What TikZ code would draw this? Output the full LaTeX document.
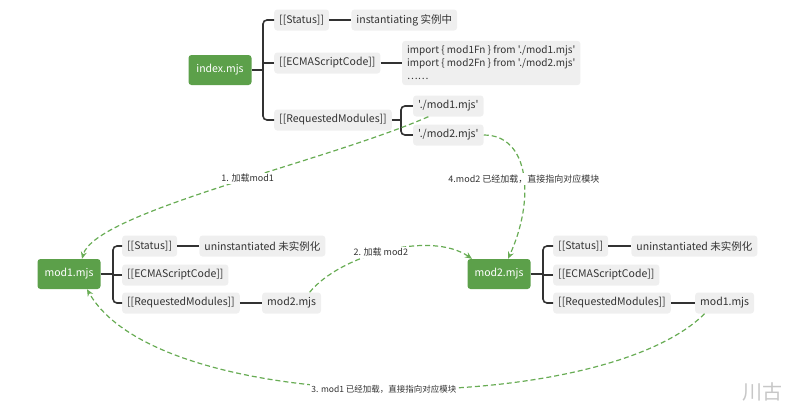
\documentclass[tikz,border=0pt]{standalone}
\usepackage{fontspec}
\setmainfont{Noto Sans CJK SC}[Ligatures=TeXOff]
\usetikzlibrary{arrows.meta,positioning,calc}
\definecolor{verdeMod}{RGB}{92,160,74}
\definecolor{verdeSeta}{RGB}{104,172,84}
\definecolor{cinzaCaixa}{RGB}{239,239,239}
\definecolor{traco}{RGB}{50,50,50}
\tikzset{
  modulo/.style={rectangle, fill=verdeMod, text=white, rounded corners=3pt,
                 minimum width=63pt, minimum height=30pt,
                 font=\fontsize{10.5}{12}\selectfont},
  campo/.style={rectangle, fill=cinzaCaixa, rounded corners=3pt, minimum height=21pt,
                inner xsep=5pt, font=\fontsize{10.5}{12}\selectfont, text=black!80},
  ramo/.style={draw=traco, line width=1.6pt, rounded corners=4pt},
  carga/.style={-{Stealth[length=7pt,width=6pt]}, verdeSeta, line width=1.2pt,
                dash pattern=on 5pt off 3pt},
  rotulo/.style={fill=white, inner sep=1.5pt, font=\fontsize{9}{11}\selectfont, text=black!80},
}
\begin{document}
\begin{tikzpicture}[x=1pt, y=-1pt]
  \useasboundingbox (0,0) rectangle (801,416);
  % index.mjs
  \node[modulo] (idx) at (220,70) {index.mjs};
  \node[campo, anchor=west] (i_st) at (274,20) {[[Status]]};
  \node[campo, right=22pt of i_st] (i_stv) {instantiating 实例中};
  \node[campo, anchor=west] (i_cod) at (274,63) {[[ECMAScriptCode]]};
  \node[campo, anchor=west, align=left, inner ysep=5pt,
        font=\fontsize{10}{13}\selectfont] (i_codv) at (402,63)
    {import \{ mod1Fn \} from './mod1.mjs'\\import \{ mod2Fn \} from './mod2.mjs'\\……};
  \node[campo, anchor=west] (i_req) at (274,120) {[[RequestedModules]]};
  \node[campo, anchor=west] (r1) at ($(i_req.east)+(21,-14)$) {'./mod1.mjs'};
  \node[campo, anchor=west] (r2) at ($(i_req.east)+(21,15)$) {'./mod2.mjs'};
  \coordinate (bI) at ([xshift=-11]i_st.west);
  \coordinate (bR) at ([xshift=-12]r1.west);
  \draw[ramo] (idx.east) -- (idx.east -| bI);
  \draw[ramo] (i_st.west) -- (i_st.west -| bI) -- (i_req.west -| bI) -- (i_req.west);
  \draw[ramo] (i_cod.west) -- (i_cod.west -| bI);
  \draw[ramo] (i_st) -- (i_stv);
  \draw[ramo] (i_cod) -- (i_codv);
  \draw[ramo] (i_req.east) -- (i_req.east -| bR);
  \draw[ramo] (r1.west) -- (r1.west -| bR) -- (r2.west -| bR) -- (r2.west);

  % mod1.mjs
  \node[modulo] (m1) at (69,274) {mod1.mjs};
  \node[campo, anchor=west] (m1_st) at (122,246) {[[Status]]};
  \node[campo, right=22pt of m1_st] (m1_stv) {uninstantiated 未实例化};
  \node[campo, anchor=west] (m1_cod) at (122,275) {[[ECMAScriptCode]]};
  \node[campo, anchor=west] (m1_req) at (122,303) {[[RequestedModules]]};
  \node[campo, right=22pt of m1_req] (m1_dep) {mod2.mjs};
  \coordinate (b1) at ([xshift=-9]m1_st.west);
  \draw[ramo] (m1.east) -- (m1.east -| b1);
  \draw[ramo] (m1_st.west) -- (m1_st.west -| b1) -- (m1_req.west -| b1) -- (m1_req.west);
  \draw[ramo] (m1_cod.west) -- (m1_cod.west -| b1);
  \draw[ramo] (m1_st) -- (m1_stv);
  \draw[ramo] (m1_req) -- (m1_dep);

  % mod2.mjs
  \node[modulo] (m2) at (499,274) {mod2.mjs};
  \node[campo, anchor=west] (m2_st) at (553,246) {[[Status]]};
  \node[campo, right=23pt of m2_st] (m2_stv) {uninstantiated 未实例化};
  \node[campo, anchor=west] (m2_cod) at (553,275) {[[ECMAScriptCode]]};
  \node[campo, anchor=west] (m2_req) at (553,303) {[[RequestedModules]]};
  \node[campo, right=24pt of m2_req] (m2_dep) {mod1.mjs};
  \coordinate (b2) at ([xshift=-10]m2_st.west);
  \draw[ramo] (m2.east) -- (m2.east -| b2);
  \draw[ramo] (m2_st.west) -- (m2_st.west -| b2) -- (m2_req.west -| b2) -- (m2_req.west);
  \draw[ramo] (m2_cod.west) -- (m2_cod.west -| b2);
  \draw[ramo] (m2_st) -- (m2_stv);
  \draw[ramo] (m2_req) -- (m2_dep);

  % carregamento
  \draw[carga] ([xshift=-20]r1.south) .. controls (325,162) and (95,212) .. ([xshift=13]m1.north)
    node[rotulo, pos=0.44] {1. 加载mod1};
  \draw[carga] ([xshift=18]m1_dep.north) .. controls (340,255) and (430,230) .. ([xshift=-27]m2.north)
    node[rotulo, pos=0.47] {2. 加载 mod2};
  \draw[carga] ([xshift=-20]m2_dep.south) .. controls (600,418) and (160,418) .. ([xshift=18]m1.south)
    node[rotulo, pos=0.5, font=\fontsize{8.5}{10}\selectfont] {3. mod1 已经加载，直接指向对应模块};
  \draw[carga] (r2.east) .. controls (530,135) and (535,200) .. ([xshift=9]m2.north)
    node[rotulo, pos=0.53] {4.mod2 已经加载，直接指向对应模块};

  \node[text=black!22, font=\fontsize{20}{20}\selectfont] (marca) at (762,392) {川古};
\end{tikzpicture}
\end{document}
